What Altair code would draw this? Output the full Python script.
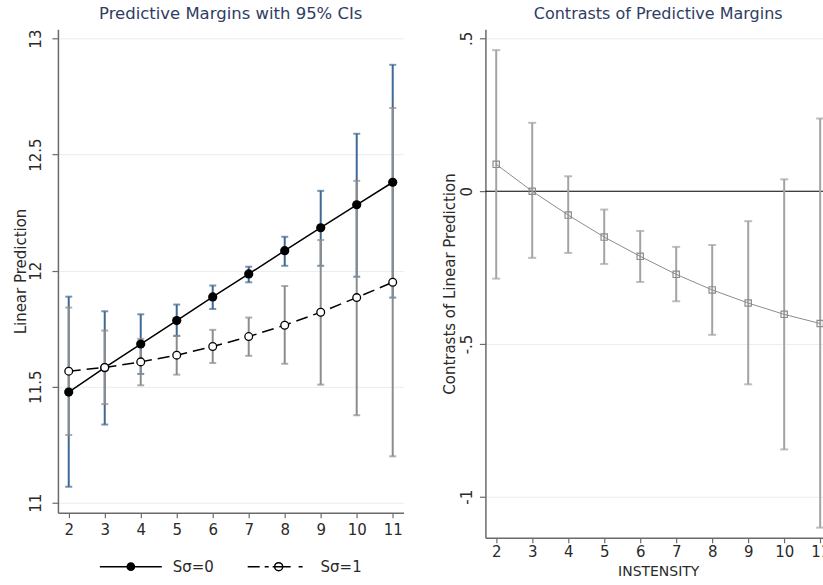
import altair as alt
import pandas as pd

# ---- data ----
intensity = [2, 3, 4, 5, 6, 7, 8, 9, 10, 11]

s0_mean = [11.477, 11.582, 11.684, 11.785, 11.887, 11.986, 12.086, 12.185, 12.284, 12.381]
s0_lo = [11.069, 11.337, 11.555, 11.719, 11.835, 11.950, 12.021, 12.021, 11.974, 11.884]
s0_hi = [11.888, 11.825, 11.812, 11.854, 11.936, 12.017, 12.146, 12.344, 12.590, 12.887]

s1_mean = [11.567, 11.583, 11.607, 11.636, 11.673, 11.716, 11.765, 11.821, 11.884, 11.950]
s1_lo = [11.292, 11.425, 11.506, 11.552, 11.602, 11.633, 11.599, 11.509, 11.377, 11.200]
s1_hi = [11.841, 11.742, 11.706, 11.719, 11.745, 11.798, 11.934, 12.132, 12.387, 12.701]

con_mean = [0.088, 0.0, -0.078, -0.150, -0.213, -0.272, -0.323, -0.366, -0.403, -0.433]
con_lo = [-0.286, -0.218, -0.202, -0.238, -0.297, -0.360, -0.470, -0.632, -0.845, -1.101]
con_hi = [0.462, 0.224, 0.049, -0.060, -0.130, -0.182, -0.176, -0.098, 0.039, 0.238]

series_labels = ["Sσ=0", "Sσ=1"]
left_y_ticks = [11, 11.5, 12, 12.5, 13]
right_y_ticks = [-1, -0.5, 0, 0.5]
zero_line = [0]

# ---- tables ----
rows = []
for i, x in enumerate(intensity):
    rows.append({"x": x, "series": series_labels[0], "mean": s0_mean[i], "lo": s0_lo[i], "hi": s0_hi[i]})
for i, x in enumerate(intensity):
    rows.append({"x": x, "series": series_labels[1], "mean": s1_mean[i], "lo": s1_lo[i], "hi": s1_hi[i]})
margins = pd.DataFrame(rows)
m0 = margins[margins.series == series_labels[0]]
m1 = margins[margins.series == series_labels[1]]
contrast = pd.DataFrame({"x": intensity, "mean": con_mean, "lo": con_lo, "hi": con_hi})
zero_df = pd.DataFrame({"y": zero_line})

FONT = "DejaVu Sans"
TITLE_COLOR = "#2f3d62"
BLUE = "#3f6892"
GRAY = "#8c8c8c"
GRAY2 = "#a3a3a3"
AXIS_COLOR = "#6a6a6a"
GRID = "#e6eff1"
TEXT = "#2a2a2a"

x_dom = [1.7, 11.3]
left_dom = [10.957, 13.04]
right_dom = [-1.134, 0.53]

def x_enc(title=None, label_pad=5):
    return alt.X("x:Q", scale=alt.Scale(domain=x_dom, nice=False, zero=False),
                 axis=alt.Axis(values=intensity, title=title, grid=False, format="d",
                               labelFontSize=15, titleFontSize=14, titleFontWeight="normal",
                               titlePadding=5, labelPadding=label_pad, tickSize=5))

left_y_axis = alt.Axis(values=left_y_ticks, title="Linear Prediction", grid=True, gridColor=GRID,
                       labelExpr="format(datum.value, '~g')", labelAngle=270,
                       labelAlign="center", labelBaseline="bottom", labelPadding=8,
                       labelFontSize=15, titleFontSize=15, titleFontWeight="normal", titlePadding=0,
                       tickSize=6)
left_y_scale = alt.Scale(domain=left_dom, nice=False, zero=False)

def ly(field):
    return alt.Y(f"{field}:Q", scale=left_y_scale, axis=left_y_axis)

ci0 = alt.Chart(m0).mark_rule(color=BLUE, strokeWidth=2).encode(x=x_enc(), y=ly("lo"), y2="hi")
cap0a = alt.Chart(m0).mark_tick(color=BLUE, size=7, thickness=2, orient="horizontal").encode(x=x_enc(), y=ly("lo"))
cap0b = alt.Chart(m0).mark_tick(color=BLUE, size=7, thickness=2, orient="horizontal").encode(x=x_enc(), y=ly("hi"))
ci1 = alt.Chart(m1).mark_rule(color=GRAY, strokeWidth=2).encode(x=x_enc(), y=ly("lo"), y2="hi")
cap1a = alt.Chart(m1).mark_tick(color=GRAY, size=7, thickness=2, orient="horizontal").encode(x=x_enc(), y=ly("lo"))
cap1b = alt.Chart(m1).mark_tick(color=GRAY, size=7, thickness=2, orient="horizontal").encode(x=x_enc(), y=ly("hi"))

line0 = alt.Chart(m0).mark_line(color="black", strokeWidth=1.5).encode(x=x_enc(), y=ly("mean"))
line1 = alt.Chart(m1).mark_line(color="black", strokeWidth=1.5, strokeDash=[12, 6]).encode(x=x_enc(), y=ly("mean"))
pts0 = alt.Chart(m0).mark_point(filled=True, color="black", size=85, opacity=1, shape="circle").encode(x=x_enc(), y=ly("mean"))
pts1 = alt.Chart(m1).mark_point(fill="white", stroke="black", strokeWidth=1.3, size=60, opacity=1,
                                shape="circle").encode(x=x_enc(), y=ly("mean"))

# legend symbols (line + marker) as custom SVG paths; unit = 10 px at symbolSize 400
def ring(r):
    return f"M{r},0A{r},{r},0,1,1,{-r},0A{r},{r},0,1,1,{r},0Z"

path_solid = "M-3.1,0L3.1,0" + "".join(ring(r) for r in [0.36, 0.25, 0.14, 0.04])
path_dash = "M-3.1,0L-1.9,0M-1.4,0L-1.0,0M-0.6,0L1.2,0M2.0,0L2.4,0" + ring(0.4)

leg = alt.Legend(title=None, orient="none", legendX=62, legendY=527, direction="horizontal",
                 symbolSize=400, symbolStrokeWidth=1.5, symbolStrokeColor="black",
                 symbolFillColor="transparent", symbolOpacity=1,
                 labelFontSize=15, labelFont=FONT, labelColor=TEXT, labelOffset=31,
                 columnPadding=30, padding=0)
legend_layer = alt.Chart(margins).mark_point(opacity=0, stroke="black", strokeWidth=1.5, filled=False).encode(
    x=x_enc(), y=ly("mean"),
    shape=alt.Shape("series:N", scale=alt.Scale(domain=series_labels, range=[path_solid, path_dash]), legend=leg),
)

left = alt.layer(ci0, cap0a, cap0b, ci1, cap1a, cap1b, line0, line1, pts0, pts1, legend_layer).properties(
    width=346, height=484,
    title=alt.TitleParams("Predictive Margins with 95% CIs", fontSize=16.5, fontWeight="normal",
                          color=TITLE_COLOR, font=FONT, anchor="middle", offset=7),
)

# ---- right panel ----
right_y_axis = alt.Axis(values=right_y_ticks, title="Contrasts of Linear Prediction", grid=True, gridColor=GRID,
                        labelExpr="datum.value == 0.5 ? '.5' : datum.value == -0.5 ? '-.5' : datum.value == -1 ? '-1' : '0'",
                        labelAngle=270, labelAlign="center", labelBaseline="bottom", labelPadding=5,
                        labelFontSize=15, titleFontSize=15, titleFontWeight="normal", titlePadding=2,
                        tickSize=6)
right_y_scale = alt.Scale(domain=right_dom, nice=False, zero=False)

def ry(field):
    return alt.Y(f"{field}:Q", scale=right_y_scale, axis=right_y_axis)

rx = lambda: x_enc("INSTENSITY", label_pad=2)
zero_rule = alt.Chart(zero_df).mark_rule(color="black", strokeWidth=1).encode(y=ry("y"))
rci = alt.Chart(contrast).mark_rule(color=GRAY2, strokeWidth=2).encode(x=rx(), y=ry("lo"), y2="hi")
rcapa = alt.Chart(contrast).mark_tick(color=GRAY2, size=8, thickness=2, orient="horizontal").encode(x=rx(), y=ry("lo"))
rcapb = alt.Chart(contrast).mark_tick(color=GRAY2, size=8, thickness=2, orient="horizontal").encode(x=rx(), y=ry("hi"))
rline = alt.Chart(contrast).mark_line(color=GRAY, strokeWidth=1).encode(x=rx(), y=ry("mean"))
rpts = alt.Chart(contrast).mark_point(shape="square", color=GRAY, size=40, strokeWidth=1.2, opacity=1).encode(
    x=rx(), y=ry("mean"))

right = alt.layer(zero_rule, rci, rcapa, rcapb, rline, rpts).properties(
    width=346, height=509,
    title=alt.TitleParams("Contrasts of Predictive Margins", fontSize=16, fontWeight="normal",
                          color=TITLE_COLOR, font=FONT, anchor="middle", offset=7),
)

chart = alt.hconcat(left, right, spacing=38).resolve_scale(
    shape="independent").resolve_legend(shape="independent").properties(
    padding={"left": 13, "top": 5, "right": -9, "bottom": 0},
    background="white",
).configure_view(stroke=None).configure_axis(
    domainColor=AXIS_COLOR, domainWidth=1.5, tickColor=AXIS_COLOR, tickWidth=1.2,
    labelColor=TEXT, titleColor=TEXT, labelFont=FONT, titleFont=FONT,
).configure_axisY(titleAngle=270)

chart.save("out.html", embed_options={"renderer": "svg", "actions": False})
